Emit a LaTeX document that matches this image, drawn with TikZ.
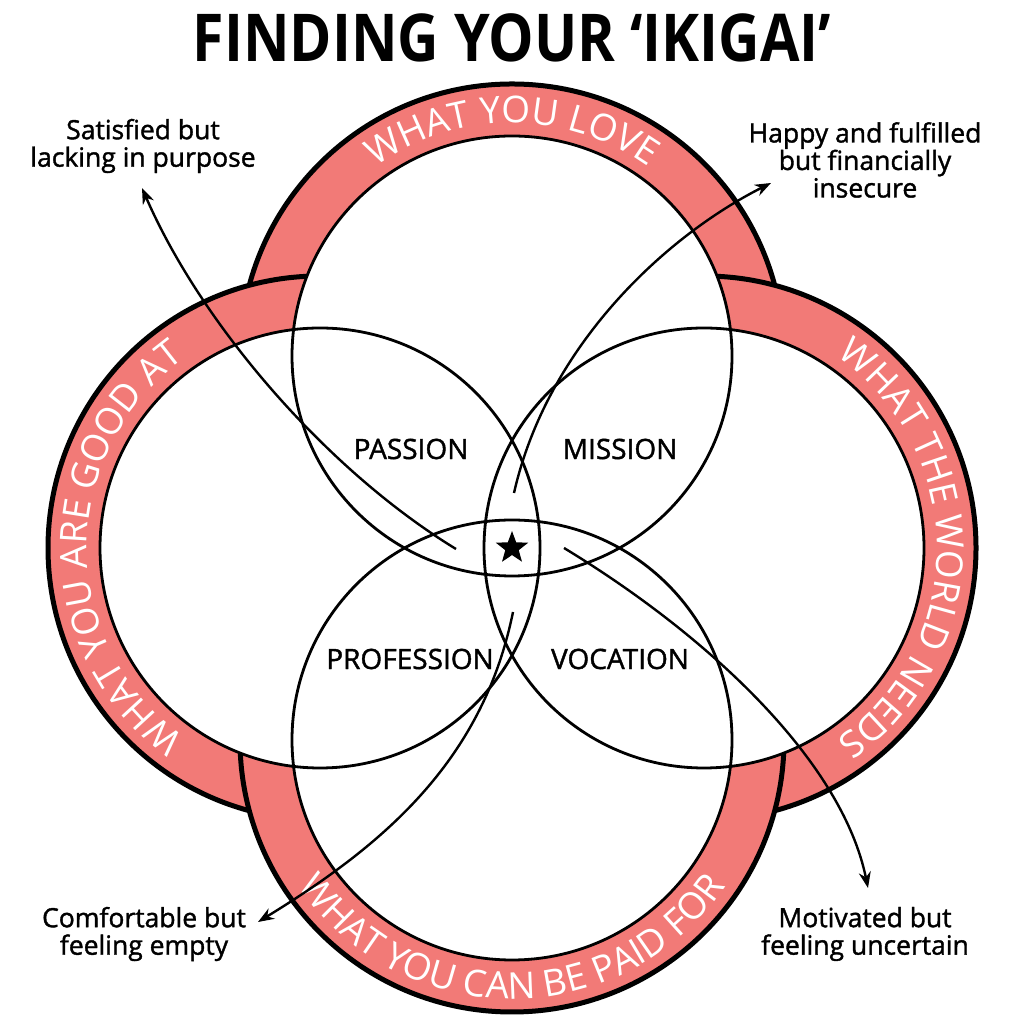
\documentclass[tikz,border=0pt]{standalone}
\usepackage{fontspec}
\setmainfont{Open Sans}
\newfontfamily\medfont{Open Sans}[FakeBold=1.4]
\usetikzlibrary{decorations.text,arrows.meta,shapes.geometric,calc}
\definecolor{ringpink}{HTML}{F27A77}
\newcommand\ringfont{\fontsize{37}{37}\selectfont}
\begin{document}
\begin{tikzpicture}[x=1pt,y=1pt,
  ring/.style={fill=ringpink, draw=black, line width=5pt},
  innerline/.style={draw=black, line width=2.8pt},
  arrowline/.style={draw=black, line width=2.4pt, -{Stealth[length=16pt,width=12pt]}},
  zonelabel/.style={font=\medfont\fontsize{28}{30}\selectfont, inner sep=0pt},
  callout/.style={align=center, font=\medfont\fontsize{26.5}{27.5}\selectfont, inner sep=0pt},
  ringtext/.style={decorate, decoration={text along path, text align=center, text color=white, text={|\ringfont|#1}}}
]
\useasboundingbox (0,0) rectangle (1024,1024);
\coordinate (cT) at (512,668);
\coordinate (cL) at (320,476);
\coordinate (cR) at (704,476);
\coordinate (cB) at (512,284);
% rings
\path[ring] (cT) circle[radius=272];
\path[ring] (cL) circle[radius=272];
\path[ring] (cR) circle[radius=272];
\path[ring] (cB) circle[radius=272];
\foreach \c in {cT,cL,cR,cB} \path[fill=white] (\c) circle[radius=220];
\foreach \c in {cT,cL,cR,cB} \draw[innerline] (\c) circle[radius=220];
% ring texts
\path[ringtext={WHAT YOU LOVE}] ($(cT)+(150:233)$) arc[start angle=150, end angle=30, radius=233];
\path[ringtext={WHAT YOU ARE GOOD AT}] ($(cL)+(240:233)$) arc[start angle=240, end angle=120, radius=233];
\path[ringtext={WHAT THE WORLD NEEDS}] ($(cR)+(60:233)$) arc[start angle=60, end angle=-60, radius=233];
\path[ringtext={WHAT YOU CAN BE PAID FOR}] ($(cB)+(200:259)$) arc[start angle=200, end angle=340, radius=259];
% title
\node[font=\bfseries\fontsize{66}{70}\selectfont, inner sep=0pt] (title) at (512,986) {\scalebox{0.868}[1]{FINDING YOUR ‘IKIGAI’}};
% zone labels
\node[zonelabel] (passion) at (411,575) {PASSION};
\node[zonelabel] (mission) at (620,575) {MISSION};
\node[zonelabel] (profession) at (410,365) {PROFESSION};
\node[zonelabel] (vocation) at (620,365) {VOCATION};
% star
\node[star, star points=5, star point ratio=2.4, fill=black, minimum size=34pt, inner sep=0pt] (star) at (512,476) {};
% callouts
\node[callout] (sat) at (143,878) {Satisfied but\\lacking in purpose};
\node[callout] (hap) at (865,864) {Happy and fulfilled\\but financially\\insecure};
\node[callout] (com) at (144,90) {Comfortable but\\feeling empty};
\node[callout] (mot) at (865,90) {Motivated but\\feeling uncertain};
% arrow ends
\coordinate (s1) at (456,475); \coordinate (e1) at (142,836);
\coordinate (s2) at (514,531); \coordinate (e2) at (771,841);
\coordinate (s3) at (513,412); \coordinate (e3) at (258,102);
\coordinate (s4) at (564,476); \coordinate (e4) at (868,136);
\draw[arrowline] (s1) .. controls (328,553) and (202,698) .. (e1);
\draw[arrowline] (s2) .. controls (547,677) and (664,787) .. (e2);
\draw[arrowline] (s3) .. controls (483,265) and (387,181) .. (e3);
\draw[arrowline] (s4) .. controls (709,388) and (842,263) .. (e4);
\end{tikzpicture}
\end{document}
